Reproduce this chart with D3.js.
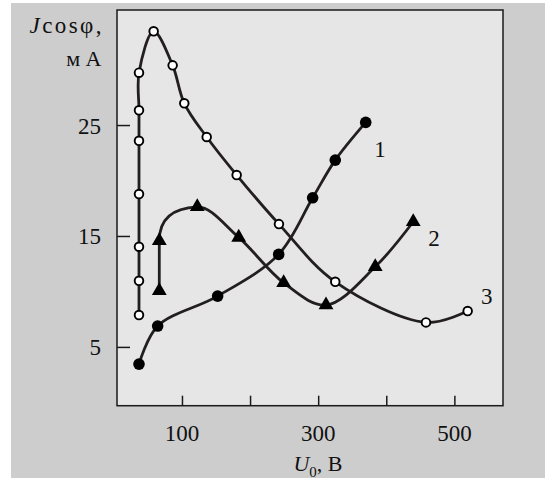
<!DOCTYPE html>
<html>
<head>
<meta charset="utf-8">
<script src="https://cdn.jsdelivr.net/npm/d3@7"></script>
<style>
  html, body { margin: 0; padding: 0; background: #fff; }
  svg { display: block; }
  text { font-family: "Liberation Serif", "Times New Roman", serif; fill: #111; }
</style>
</head>
<body>
<div id="chart"></div>
<script>
// curve 1 - filled circles
const series1U = [36.9, 64.3, 152.4, 242.0, 291.9, 325.1, 369.8];
const series1J = [3.45, 6.88, 9.58, 13.34, 18.44, 21.84, 25.24];

// curve 2 - triangles
const series2U = [66.7, 66.7, 122.5, 183.3, 249.3, 311.5, 383.8, 439.6];
const series2J = [10.06, 14.57, 17.63, 14.87, 10.78, 8.77, 12.22, 16.28];

// curve 3 - open circles
const series3U = [36.9, 36.9, 36.9, 36.9, 36.9, 36.9, 36.9, 58.4, 86.3, 103.4, 136.3, 180.3, 242.4, 325.1, 458.3, 519.5];
const series3J = [7.87, 10.96, 14.03, 18.78, 23.58, 26.33, 29.72, 33.45, 30.38, 26.96, 23.92, 20.49, 16.07, 10.87, 7.21, 8.23];

const xTicks = [100, 200, 300, 400, 500];
const xTickLabels = ["100", "", "300", "", "500"];
const yTicks = [5, 15, 25];

const curveLabels = ["1", "2", "3"];
const curveLabelU = [390.7, 470.0, 547.4];
const curveLabelJ = [22.1, 14.12, 8.86];

const width = 545, height = 478;
const plot = {left: 117, top: 10, right: 503, bottom: 405.7};

const svg = d3.select("#chart").append("svg")
    .attr("width", width)
    .attr("height", height);

// backgrounds
svg.append("rect")
    .attr("x", 11).attr("y", 3)
    .attr("width", width - 11).attr("height", height - 3)
    .attr("fill", "#cdcdcd");

svg.append("rect")
    .attr("x", plot.left).attr("y", plot.top)
    .attr("width", plot.right - plot.left).attr("height", plot.bottom - plot.top)
    .attr("fill", "#e6e6e6")
    .attr("stroke", "#1a1a1a")
    .attr("stroke-width", 1.5);

const x = d3.scaleLinear().domain([4.6, 571.4]).range([plot.left, plot.right]);
const y = d3.scaleLinear().domain([-0.3, 35.37]).range([plot.bottom, plot.top]);

// x axis ticks (inside, pointing up)
const xAxis = d3.axisTop(x)
    .tickValues(xTicks)
    .tickSize(10)
    .tickFormat("");
const gx = svg.append("g")
    .attr("transform", `translate(0,${plot.bottom})`)
    .call(xAxis);
gx.select(".domain").remove();
gx.selectAll(".tick line").attr("stroke", "#1a1a1a").attr("stroke-width", 1.5);

svg.append("g").selectAll("text")
    .data(xTicks)
    .enter().append("text")
    .attr("x", d => x(d))
    .attr("y", 440.5)
    .attr("text-anchor", "middle")
    .attr("font-size", "23px")
    .text((d, i) => xTickLabels[i]);

// y axis ticks (inside, pointing right)
const yAxis = d3.axisRight(y)
    .tickValues(yTicks)
    .tickSize(13)
    .tickFormat("");
const gy = svg.append("g")
    .attr("transform", `translate(${plot.left},0)`)
    .call(yAxis);
gy.select(".domain").remove();
gy.selectAll(".tick line").attr("stroke", "#1a1a1a").attr("stroke-width", 1.5);

svg.append("g").selectAll("text")
    .data(yTicks)
    .enter().append("text")
    .attr("x", 101)
    .attr("y", d => y(d) + 8.5)
    .attr("text-anchor", "end")
    .attr("font-size", "23px")
    .text(d => d);

// axis titles
const yTitle = svg.append("text")
    .attr("x", 29.5)
    .attr("y", 33)
    .attr("font-size", "23px")
    .attr("textLength", 72)
    .attr("lengthAdjust", "spacing");
yTitle.append("tspan").attr("font-style", "italic").text("J");
yTitle.append("tspan").text("cosφ,");

svg.append("text")
    .attr("x", 101.5)
    .attr("y", 66)
    .attr("text-anchor", "end")
    .attr("font-size", "22px")
    .text("м А");

const xTitle = svg.append("text")
    .attr("x", 318)
    .attr("y", 470.5)
    .attr("text-anchor", "middle")
    .attr("font-size", "22px");
xTitle.append("tspan").attr("font-style", "italic").text("U");
xTitle.append("tspan").attr("font-size", "15px").attr("dy", 6).text("0");
xTitle.append("tspan").attr("dy", -6).text(", В");

// curves
const line = d3.line()
    .x(d => x(d[0]))
    .y(d => y(d[1]))
    .curve(d3.curveCatmullRom.alpha(0.5));

const s1 = series1U.map((u, i) => [u, series1J[i]]);
const s2 = series2U.map((u, i) => [u, series2J[i]]);
const s3 = series3U.map((u, i) => [u, series3J[i]]);

// curve 2 starts with a straight vertical run, then bends over to its peak
function curve2Path(points) {
    const p = d3.path();
    let sx = 0, sy = 0, first = true;
    const ctx = {
        moveTo(a, b) {
            p.moveTo(x(points[0][0]), y(points[0][1]));
            p.lineTo(a, b);
            sx = a; sy = b;
        },
        lineTo(a, b) { p.lineTo(a, b); },
        bezierCurveTo(x1, y1, x2, y2, x3, y3) {
            if (first) {
                first = false;
                p.bezierCurveTo(sx, sy - 30, x2, y2, x3, y3);
            } else {
                p.bezierCurveTo(x1, y1, x2, y2, x3, y3);
            }
        },
        closePath() { p.closePath(); }
    };
    line.context(ctx)(points.slice(1));
    line.context(null);
    return p.toString();
}

[line(s1), curve2Path(s2), line(s3)].forEach(d => {
    svg.append("path")
        .attr("d", d)
        .attr("fill", "none")
        .attr("stroke", "#231f20")
        .attr("stroke-width", 2.8);
});

// markers
svg.append("g").selectAll("circle")
    .data(s1)
    .enter().append("circle")
    .attr("cx", d => x(d[0]))
    .attr("cy", d => y(d[1]))
    .attr("r", 5.8)
    .attr("fill", "#000");

svg.append("g").selectAll("path")
    .data(s2)
    .enter().append("path")
    .attr("transform", d => `translate(${x(d[0])},${y(d[1])})`)
    .attr("d", d3.symbol().type(d3.symbolTriangle).size(95))
    .attr("fill", "#000");

svg.append("g").selectAll("circle")
    .data(s3)
    .enter().append("circle")
    .attr("cx", d => x(d[0]))
    .attr("cy", d => y(d[1]))
    .attr("r", 4.3)
    .attr("fill", "#fff")
    .attr("stroke", "#000")
    .attr("stroke-width", 1.9);

// curve numbers
svg.append("g").selectAll("text")
    .data(curveLabels)
    .enter().append("text")
    .attr("x", (d, i) => x(curveLabelU[i]))
    .attr("y", (d, i) => y(curveLabelJ[i]))
    .attr("text-anchor", "middle")
    .attr("font-size", "23px")
    .text(d => d);
</script>
</body>
</html>
